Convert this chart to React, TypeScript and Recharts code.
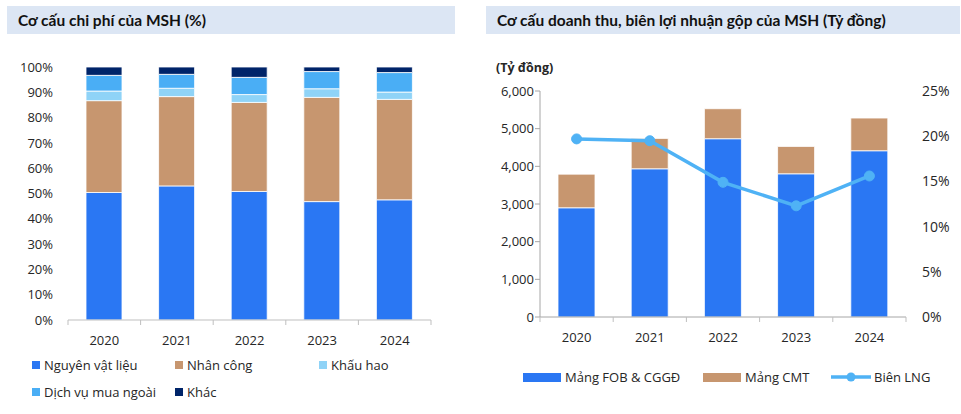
import React from "react";
import { Bar, BarChart, ComposedChart, Line, XAxis, YAxis } from "recharts";

const years = ["2020", "2021", "2022", "2023", "2024"];

// Cơ cấu chi phí (%)
const nguyenVatLieu = [50.4, 53.0, 50.8, 46.8, 47.5];
const nhanCong = [36.3, 35.3, 35.2, 41.2, 39.7];
const khauHao = [3.8, 3.3, 3.1, 3.4, 2.9];
const dichVuMuaNgoai = [6.2, 5.5, 6.8, 6.8, 7.7];
const khac = [3.3, 2.9, 4.1, 1.8, 2.2];
const pctTicks = [0, 10, 20, 30, 40, 50, 60, 70, 80, 90, 100];

// Doanh thu (Tỷ đồng) và biên LNG (%)
const mangFob = [2900, 3935, 4733, 3802, 4414];
const mangCmt = [893, 807, 797, 727, 868];
const bienLng = [19.7, 19.5, 14.9, 12.3, 15.6];
const revTicks = [0, 1000, 2000, 3000, 4000, 5000, 6000];
const marginTicks = [0, 5, 10, 15, 20, 25];

const C = {
  blue: "#2A77F3",
  tan: "#C7966F",
  light: "#8FD3F7",
  sky: "#4AAEF5",
  navy: "#002469",
  line: "#4FB2F5",
  axis: "#BFBFBF",
  text: "#262626",
  band: "#DCE6F4",
};

const FONT = "'Open Sans', 'Noto Sans', sans-serif";
const TITLE_FONT = "Lato, 'Noto Sans', sans-serif";

const costData = years.map((year, i) => ({
  year,
  nvl: nguyenVatLieu[i],
  nc: nhanCong[i],
  kh: khauHao[i],
  dv: dichVuMuaNgoai[i],
  khac: khac[i],
}));

const revData = years.map((year, i) => ({
  year,
  fob: mangFob[i],
  cmt: mangCmt[i],
  lng: bienLng[i],
}));

function makeXTick(band: number, count: number) {
  return function XTick(props: any) {
    const { x, y, payload, index } = props;
    return (
      <g>
        <line x1={x - band / 2} x2={x - band / 2} y1={y} y2={y + 5} stroke={C.axis} />
        {index === count - 1 && (
          <line x1={x + band / 2} x2={x + band / 2} y1={y} y2={y + 5} stroke={C.axis} />
        )}
        <text x={x} y={y + 20} dy="0.35em" textAnchor="middle" fontSize={13} fill={C.text} fontFamily={FONT}>
          {payload.value}
        </text>
      </g>
    );
  };
}

const tickStyle = { fontSize: 13, fill: C.text, fontFamily: FONT };

function Swatch({ color, w = 8, h = 8 }: { color: string; w?: number; h?: number }) {
  return <span style={{ display: "inline-block", width: w, height: h, background: color, marginRight: 4 }} />;
}

function LegendItem({ x, y, color, label }: { x: number; y: number; color: string; label: string }) {
  return (
    <div style={{ position: "absolute", left: x, top: y - 9, height: 18, display: "flex", alignItems: "center", fontFamily: FONT, fontSize: 13, color: C.text, whiteSpace: "nowrap" }}>
      <Swatch color={color} />
      {label}
    </div>
  );
}

function Title({ x, w, text }: { x: number; w: number; text: string }) {
  return (
    <div style={{ position: "absolute", left: x, top: 6, width: w, height: 28, background: C.band, display: "flex", alignItems: "center", boxSizing: "border-box", paddingLeft: 11, fontFamily: TITLE_FONT, fontWeight: 700, fontSize: 15.5, color: "#111" }}>
      {text}
    </div>
  );
}

export default function App() {
  return (
    <div style={{ position: "absolute", left: 0, top: 0, width: 961, height: 414, background: "#fff", overflow: "hidden" }}>
      <Title x={7} w={448} text="Cơ cấu chi phí của MSH (%)" />
      <Title x={486} w={474} text="Cơ cấu doanh thu, biên lợi nhuận gộp của MSH (Tỷ đồng)" />

      <div style={{ position: "absolute", left: 0, top: 0 }}>
        <BarChart width={480} height={360} data={costData} margin={{ top: 67, right: 49, bottom: 10, left: 0 }}>
          <XAxis
            dataKey="year"
            height={30}
            axisLine={{ stroke: C.axis }}
            tickLine={false}
            tickSize={0}
            tickMargin={0}
            interval={0}
            tick={makeXTick(72.6, years.length)}
          />
          <YAxis
            width={68}
            domain={[0, 100]}
            ticks={pctTicks}
            axisLine={false}
            tickLine={false}
            tickMargin={9}
            tick={tickStyle}
            tickFormatter={(v) => `${v}%`}
          />
          <Bar dataKey="nvl" stackId="a" fill={C.blue} stroke="#fff" strokeWidth={0.8} barSize={36} isAnimationActive={false} />
          <Bar dataKey="nc" stackId="a" fill={C.tan} stroke="#fff" strokeWidth={0.8} barSize={36} isAnimationActive={false} />
          <Bar dataKey="kh" stackId="a" fill={C.light} stroke="#fff" strokeWidth={0.8} barSize={36} isAnimationActive={false} />
          <Bar dataKey="dv" stackId="a" fill={C.sky} stroke="#fff" strokeWidth={0.8} barSize={36} isAnimationActive={false} />
          <Bar dataKey="khac" stackId="a" fill={C.navy} stroke="#fff" strokeWidth={0.8} barSize={36} isAnimationActive={false} />
        </BarChart>
      </div>

      <LegendItem x={32} y={365} color={C.blue} label="Nguyên vật liệu" />
      <LegendItem x={175} y={365} color={C.tan} label="Nhân công" />
      <LegendItem x={319} y={365} color={C.light} label="Khấu hao" />
      <LegendItem x={32} y={392} color={C.sky} label="Dịch vụ mua ngoài" />
      <LegendItem x={175} y={392} color={C.navy} label="Khác" />

      <div style={{ position: "absolute", left: 496, top: 59, fontFamily: FONT, fontWeight: 700, fontSize: 12.5, color: C.text }}>
        (Tỷ đồng)
      </div>

      <div style={{ position: "absolute", left: 480, top: 0 }}>
        <ComposedChart width={481} height={360} data={revData} margin={{ top: 91, right: 0, bottom: 13, left: 0 }}>
          <XAxis
            dataKey="year"
            height={30}
            axisLine={{ stroke: "#A6A6A6" }}
            tickLine={false}
            tickSize={0}
            tickMargin={0}
            interval={0}
            tick={makeXTick(73.2, years.length)}
          />
          <YAxis
            yAxisId="left"
            width={60}
            domain={[0, 6000]}
            ticks={revTicks}
            axisLine={{ stroke: "#A6A6A6" }}
            tickLine={{ stroke: "#A6A6A6" }}
            tickSize={5}
            tickMargin={1}
            tick={tickStyle}
            tickFormatter={(v) => v.toLocaleString("en-US")}
          />
          <YAxis
            yAxisId="right"
            orientation="right"
            width={55}
            domain={[0, 25]}
            ticks={marginTicks}
            axisLine={false}
            tickLine={false}
            tickMargin={10}
            tick={{ ...tickStyle, fontSize: 14 }}
            tickFormatter={(v) => `${v}%`}
          />
          <Bar yAxisId="left" dataKey="fob" stackId="r" fill={C.blue} stroke="#fff" strokeWidth={0.8} barSize={37} isAnimationActive={false} />
          <Bar yAxisId="left" dataKey="cmt" stackId="r" fill={C.tan} stroke="#fff" strokeWidth={0.8} barSize={37} isAnimationActive={false} />
          <Line
            yAxisId="right"
            dataKey="lng"
            stroke={C.line}
            strokeWidth={3.5}
            dot={{ r: 5, fill: C.line, stroke: C.line, strokeWidth: 1 }}
            isAnimationActive={false}
          />
        </ComposedChart>
      </div>

      <div style={{ position: "absolute", left: 523, top: 368, height: 18, display: "flex", alignItems: "center", fontFamily: FONT, fontSize: 13, color: C.text, whiteSpace: "nowrap" }}>
        <Swatch color={C.blue} w={38} h={9} />
        Mảng FOB &amp; CGGĐ
      </div>
      <div style={{ position: "absolute", left: 703, top: 368, height: 18, display: "flex", alignItems: "center", fontFamily: FONT, fontSize: 13, color: C.text, whiteSpace: "nowrap" }}>
        <Swatch color={C.tan} w={38} h={9} />
        Mảng CMT
      </div>
      <div style={{ position: "absolute", left: 831, top: 368, height: 18, display: "flex", alignItems: "center", fontFamily: FONT, fontSize: 13, color: C.text, whiteSpace: "nowrap" }}>
        <svg width={40} height={12} style={{ marginRight: 3 }}>
          <line x1={0} x2={40} y1={6} y2={6} stroke={C.line} strokeWidth={3.5} strokeLinecap="round" />
          <circle cx={20} cy={6} r={4.5} fill={C.line} />
        </svg>
        Biên LNG
      </div>
    </div>
  );
}
